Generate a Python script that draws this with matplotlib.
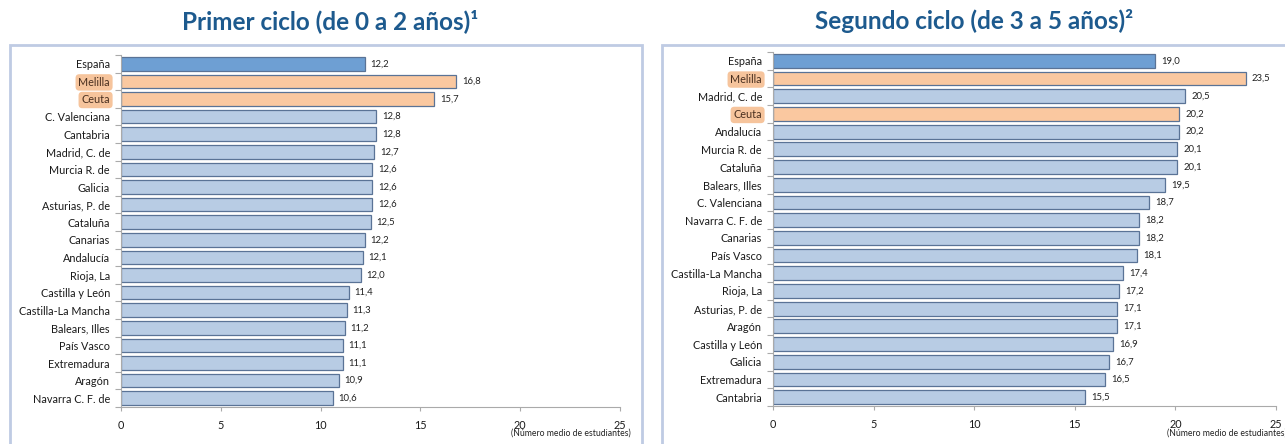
import matplotlib
matplotlib.use("Agg")
import matplotlib.pyplot as plt
from matplotlib.patches import Rectangle

# datos: primer ciclo (0-2 años)
reg_1 = ['España', 'Melilla', 'Ceuta', 'C. Valenciana', 'Cantabria', 'Madrid, C. de',
         'Murcia R. de', 'Galicia', 'Asturias, P. de', 'Cataluña', 'Canarias', 'Andalucía',
         'Rioja, La', 'Castilla y León', 'Castilla-La Mancha', 'Balears, Illes',
         'País Vasco', 'Extremadura', 'Aragón', 'Navarra C. F. de']
val_1 = [12.2, 16.8, 15.7, 12.8, 12.8, 12.7, 12.6, 12.6, 12.6, 12.5, 12.2, 12.1,
         12.0, 11.4, 11.3, 11.2, 11.1, 11.1, 10.9, 10.6]

# datos: segundo ciclo (3-5 años)
reg_2 = ['España', 'Melilla', 'Madrid, C. de', 'Ceuta', 'Andalucía', 'Murcia R. de',
         'Cataluña', 'Balears, Illes', 'C. Valenciana', 'Navarra C. F. de', 'Canarias',
         'País Vasco', 'Castilla-La Mancha', 'Rioja, La', 'Asturias, P. de', 'Aragón',
         'Castilla y León', 'Galicia', 'Extremadura', 'Cantabria']
val_2 = [19.0, 23.5, 20.5, 20.2, 20.2, 20.1, 20.1, 19.5, 18.7, 18.2, 18.2, 18.1,
         17.4, 17.2, 17.1, 17.1, 16.9, 16.7, 16.5, 15.5]

titles = ['Primer ciclo (de 0 a 2 años)¹', 'Segundo ciclo (de 3 a 5 años)²']
xticks = [0, 5, 10, 15, 20, 25]
resaltar = ['Melilla', 'Ceuta']

c_esp = '#6e9fd3'
c_norm = '#b8cce4'
c_hl = '#fac8a0'
c_edge = '#5a7396'
c_title = '#1d5a8e'
c_frame = '#bfcbe3'

plt.rcParams['font.family'] = ['Lato', 'DejaVu Sans']

W, H = 1285, 444
fig = plt.figure(figsize=(W / 100, H / 100), dpi=100)

# marcos de los paneles
fig.patches.append(Rectangle((10 / W, -0.05), 632 / W, 1 - 45 / H + 0.05,
                             transform=fig.transFigure, fill=False,
                             edgecolor=c_frame, lw=2))
fig.patches.append(Rectangle((662 / W, -0.05), 700 / W, 1 - 45 / H + 0.05,
                             transform=fig.transFigure, fill=False,
                             edgecolor=c_frame, lw=2))

boxes = [(121, 620, 55, 407), (773, 1276, 52, 406)]
cx = [330, 974]

for k, (regs, vals) in enumerate([(reg_1, val_1), (reg_2, val_2)]):
    x0, x1, y0, y1 = boxes[k]
    ax = fig.add_axes([x0 / W, 1 - y1 / H, (x1 - x0) / W, (y1 - y0) / H])
    n = len(regs)
    ypos = list(range(n))
    colors = []
    for r in regs:
        if r == 'España':
            colors.append(c_esp)
        elif r in resaltar:
            colors.append(c_hl)
        else:
            colors.append(c_norm)
    ax.barh(ypos, vals, height=0.78, color=colors, edgecolor=c_edge, lw=0.9)
    for y, v in zip(ypos, vals):
        ax.text(v + 0.3, y, f'{v:.1f}'.replace('.', ','), va='center', ha='left',
                fontsize=6.8, color='#222222')
    ax.set_ylim(n - 0.5, -0.5)
    ax.set_xlim(0, 25)
    ax.set_yticks(ypos)
    ax.set_yticklabels(regs, fontsize=7.8, color='#1a1a1a')
    ax.set_yticks([i - 0.5 for i in range(n + 1)], minor=True)
    ax.tick_params(axis='y', which='major', length=0, pad=8)
    ax.tick_params(axis='y', which='minor', length=4, color='#aaaaaa', width=0.8)
    ax.set_xticks(xticks)
    ax.set_xticklabels([str(t) for t in xticks], fontsize=7.8, color='#1a1a1a')
    ax.tick_params(axis='x', length=3, color='#aaaaaa', width=0.8, pad=6,
                   direction='out')
    for s in ['top', 'right']:
        ax.spines[s].set_visible(False)
    ax.spines['left'].set_color('#aaaaaa')
    ax.spines['bottom'].set_color('#aaaaaa')
    ax.spines['left'].set_linewidth(0.8)
    ax.spines['bottom'].set_linewidth(0.8)
    for lab in ax.get_yticklabels():
        if lab.get_text() in resaltar:
            lab.set_bbox(dict(boxstyle='round,pad=0.25,rounding_size=0.35',
                              fc='#f6c49c', ec='none'))
            lab.set_color('#4a3020')
    fig.text((x1 + 11) / W, 1 - 433 / H, '(Número medio de estudiantes)',
             ha='right', va='center', fontsize=6.2, color='#222222')
    fig.text(cx[k] / W, 1 - 29 / H, titles[k], ha='center', va='baseline',
             fontsize=17.5, fontweight='bold', color=c_title)

fig.savefig('out.png', dpi=100)
